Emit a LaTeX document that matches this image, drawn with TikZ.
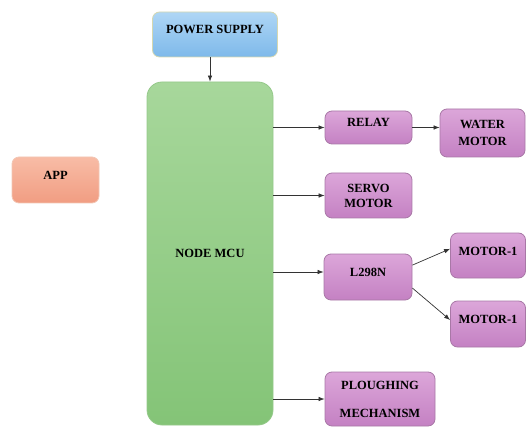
\documentclass[tikz,border=0pt]{standalone}
\usepackage{fontspec}
\setmainfont{Liberation Serif}
\usetikzlibrary{arrows.meta}
\definecolor{bluetop}{HTML}{AED6F5}
\definecolor{bluebot}{HTML}{7EB9EA}
\definecolor{blueedge}{HTML}{D6D8B0}
\definecolor{salmtop}{HTML}{F8BCA6}
\definecolor{salmbot}{HTML}{F19D82}
\definecolor{salmedge}{HTML}{F2C6B4}
\definecolor{greentop}{HTML}{A7D79B}
\definecolor{greenbot}{HTML}{84C477}
\definecolor{greenedge}{HTML}{95C98A}
\definecolor{purptop}{HTML}{DCA6D9}
\definecolor{purpbot}{HTML}{C481C3}
\definecolor{purpedge}{HTML}{A878A6}
\begin{document}
\begin{tikzpicture}[x=1pt, y=-1pt,
    font=\fontsize{12.5}{17}\selectfont\bfseries,
    box/.style={draw, line width=0.8pt, rounded corners=7pt, inner sep=0pt, align=center},
    blk/.style={box, draw=purpedge, top color=purptop, bottom color=purpbot},
    raised/.style={text height=9pt, text depth=10pt},
    arr/.style={-{Latex[length=6pt,width=4.5pt]}, line width=0.7pt, draw=black!80}]
  \useasboundingbox (0,0) rectangle (526,427);
  % left column
  \node[box, draw=blueedge, top color=bluetop, bottom color=bluebot, raised,
        minimum width=125pt, minimum height=45pt] (power) at (215,34.5) {POWER SUPPLY};
  \node[box, draw=greenedge, top color=greentop, bottom color=greenbot, rounded corners=15pt,
        minimum width=126pt, minimum height=343pt] (mcu) at (210,253.5) {NODE MCU};
  \node[box, draw=salmedge, top color=salmtop, bottom color=salmbot, raised,
        minimum width=87pt, minimum height=46pt] (app) at (55.5,180) {APP};
  % outputs
  \node[blk, raised, minimum width=87pt, minimum height=33pt] (relay) at (368.5,127.5) {RELAY};
  \node[blk, minimum width=85pt, minimum height=48pt] (water) at (482.5,133) {WATER\\MOTOR};
  \node[blk, minimum width=87pt, minimum height=45pt, font=\fontsize{12.5}{15}\selectfont\bfseries]
        (servo) at (368.5,195.5) {SERVO\\MOTOR};
  \node[blk, raised, minimum width=88pt, minimum height=46pt] (l298n) at (368,277) {L298N};
  \node[blk, raised, minimum width=75pt, minimum height=45pt] (motora) at (488,255.5) {MOTOR-1};
  \node[blk, raised, minimum width=75pt, minimum height=46pt] (motorb) at (488,324) {MOTOR-1};
  \node[blk, minimum width=110pt, minimum height=54pt] (plough) at (380,399) {PLOUGHING\\[11pt]MECHANISM};
  % connections
  \draw[arr] (power.south -| mcu.north) -- (mcu.north);
  \draw[arr] (mcu.east |- relay.west) -- (relay.west);
  \draw[arr] (relay.east) -- (relay.east -| water.west);
  \draw[arr] (mcu.east |- servo.west) -- (servo.west);
  \draw[arr] ([yshift=5pt]mcu.east |- l298n.west) -- ([yshift=5pt]l298n.west);
  \draw[arr] (l298n.15) -- (motora.170);
  \draw[arr] (l298n.-14) -- (motorb.174);
  \draw[arr] (mcu.east |- plough.west) -- (plough.west);
\end{tikzpicture}
\end{document}
